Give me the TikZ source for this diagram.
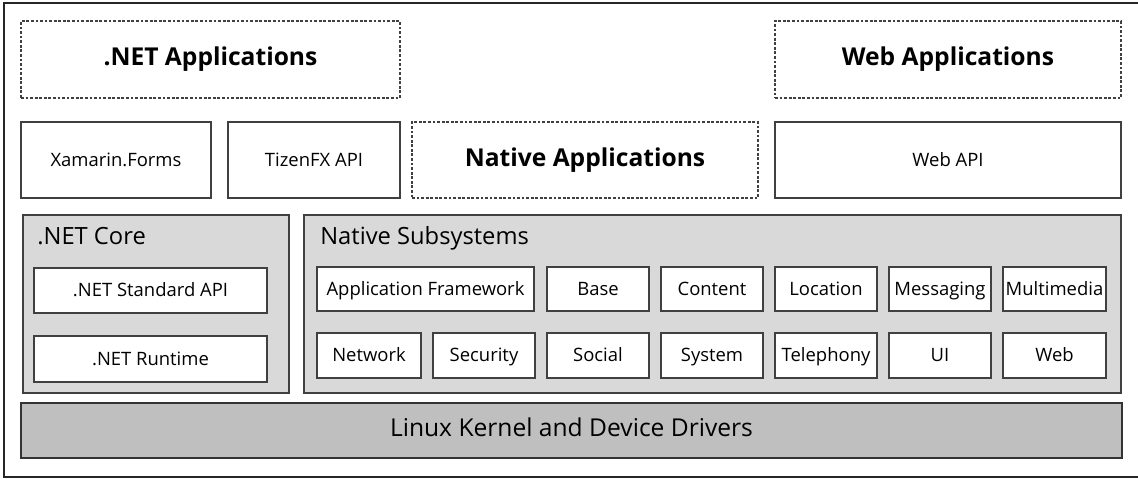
\documentclass[tikz,border=0pt]{standalone}
\usepackage{fontspec}
\setmainfont{Open Sans}

\newcommand{\px}{0.02cm}

\tikzset{
	frame/.style = {line width = 1.3pt, black!85},
	sized/.style 2 args = {minimum width = #1*\px, minimum height = #2*\px},
	box/.style = {draw = black!75, line width = 0.6pt, fill = white, inner sep = 0pt, text height = 0.72em, text depth = 0pt, font = \fontsize{10.5}{12}\selectfont},
	appbox/.style = {box, dash pattern = on 1.6pt off 1pt, font = \fontsize{14}{16}\selectfont\bfseries},
	layer/.style = {draw = black!75, line width = 0.6pt, fill = black!15, inner sep = 0pt},
	kernel/.style = {draw = black!80, line width = 0.8pt, fill = black!25, inner sep = 0pt, text height = 0.72em, text depth = 0pt, font = \fontsize{14}{16}\selectfont},
	title/.style = {anchor = west, inner sep = 0pt, text height = 0.72em, text depth = 0pt, font = \fontsize{13.5}{16}\selectfont}
}

\begin{document}
\begin{tikzpicture}[x = {(0.02cm, 0)}, y = {(0, -0.02cm)}]
	\useasboundingbox (0, 0) rectangle (1138, 478);
	\draw[frame] (1150, 3) -- (4, 3) -- (4, 477) -- (1150, 477);
	
	% applications
	\node[appbox, sized = {379}{77}] (netapps) at (210.5, 59.5) {.NET Applications};
	\node[appbox, sized = {346}{77}] (webapps) at (948, 59.5) {Web Applications};
	
	% api row
	\node[box, sized = {190}{76}] (xamarin) at (116, 160) {Xamarin.Forms};
	\node[box, sized = {172}{76}] (tizenfx) at (314, 160) {TizenFX API};
	\node[appbox, sized = {346}{76}] (nativeapps) at (585, 160) {Native Applications};
	\node[box, sized = {346}{76}] (webapi) at (948, 160) {Web API};
	
	% .NET core
	\node[layer, sized = {266}{178}] (netcore) at (156, 304) {};
	\node[title] (netcoretitle) at (37, 238) {.NET Core};
	\node[box, sized = {233}{45}] (netstd) at (150.5, 290.5) {.NET Standard API};
	\node[box, sized = {233}{46}] (netrt) at (150.5, 359) {.NET Runtime};
	
	% native subsystems
	\node[layer, sized = {817}{178}] (native) at (712.5, 304) {};
	\node[title] (nativetitle) at (320, 238) {Native Subsystems};
	
	\node[box, sized = {217}{44}] (appfw) at (425.5, 289) {Application Framework};
	\node[box, sized = {102}{44}] (base) at (598, 289) {Base};
	\node[box, sized = {102}{44}] (content) at (712, 289) {Content};
	\node[box, sized = {102}{44}] (location) at (826, 289) {Location};
	\node[box, sized = {102}{44}] (messaging) at (940, 289) {Messaging};
	\node[box, sized = {103}{44}] (multimedia) at (1054.5, 289) {Multimedia};
	
	\node[box, sized = {104}{45}] (network) at (369, 355.5) {Network};
	\node[box, sized = {102}{45}] (security) at (484, 355.5) {Security};
	\node[box, sized = {102}{45}] (social) at (598, 355.5) {Social};
	\node[box, sized = {102}{45}] (system) at (712, 355.5) {System};
	\node[box, sized = {102}{45}] (telephony) at (826, 355.5) {Telephony};
	\node[box, sized = {102}{45}] (ui) at (940, 355.5) {UI};
	\node[box, sized = {103}{45}] (web) at (1054.5, 355.5) {Web};
	
	% kernel
	\node[kernel, sized = {1101}{55}] (linux) at (571.5, 430.5) {Linux Kernel and Device Drivers};
\end{tikzpicture}
\end{document}
